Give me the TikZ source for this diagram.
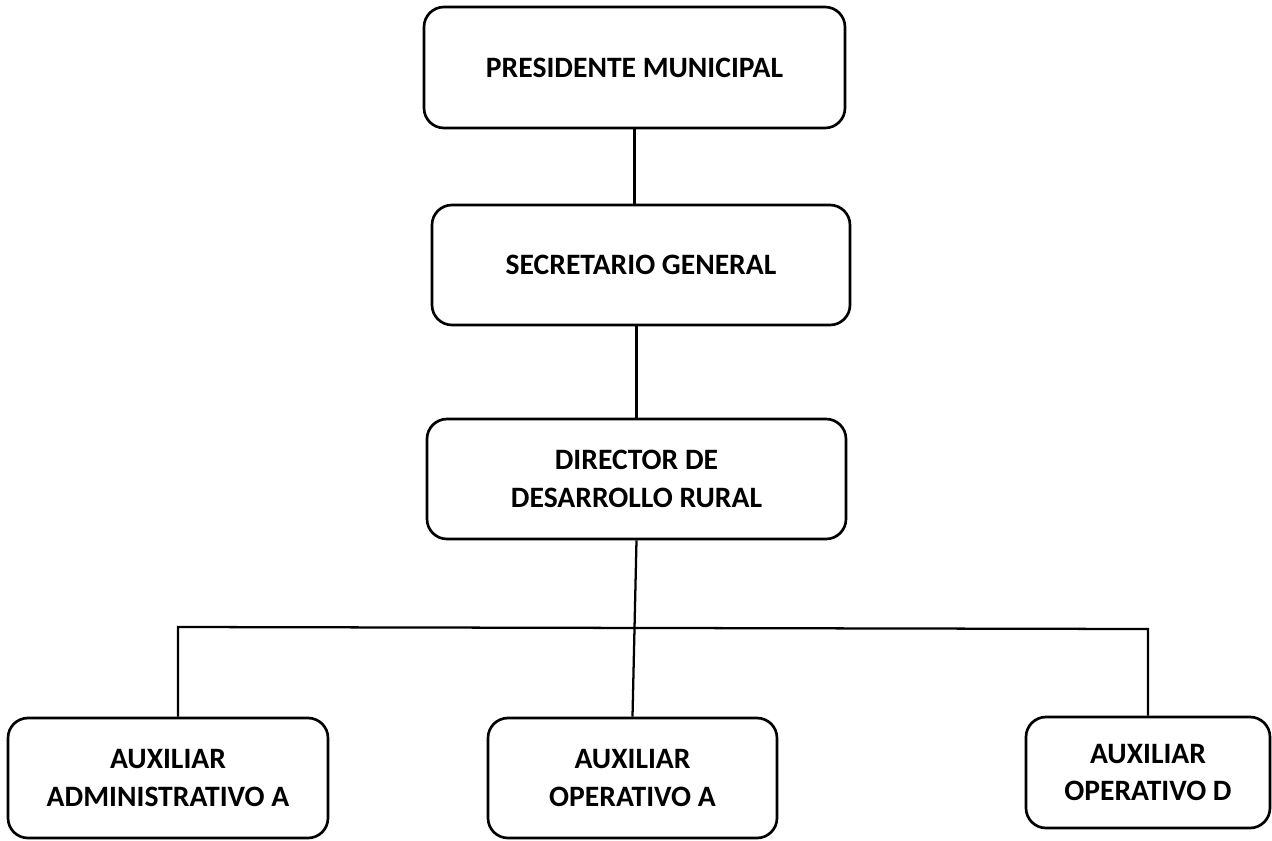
\documentclass[tikz,border=0pt]{standalone}
\usepackage{fontspec}
\setmainfont{Carlito}
\begin{document}
\begin{tikzpicture}[x=0.75pt,y=-0.75pt,
  box/.style={draw=black,line width=2pt,rounded corners=15pt,inner sep=0pt,align=center,
    font=\fontsize{22.2}{28}\selectfont\bfseries},
  conn/.style={draw=black,line width=1.7pt}]
\useasboundingbox (0,0) rectangle (1272,840);
\node[box,minimum width={0.75*421pt},minimum height={0.75*121pt}] (p) at (634.5,67.5) {PRESIDENTE MUNICIPAL};
\node[box,minimum width={0.75*418pt},minimum height={0.75*120pt}] (s) at (641,265) {SECRETARIO GENERAL};
\node[box,minimum width={0.75*419pt},minimum height={0.75*120pt}] (d) at (636.5,479) {DIRECTOR DE\\DESARROLLO RURAL};
\node[box,minimum width={0.75*320pt},minimum height={0.75*120pt}] (a) at (168,778) {AUXILIAR\\ADMINISTRATIVO A};
\node[box,minimum width={0.75*289pt},minimum height={0.75*120pt}] (b) at (632.5,778) {AUXILIAR\\OPERATIVO A};
\node[box,minimum width={0.75*244pt},minimum height={0.75*111pt}] (o) at (1148,772.5) {AUXILIAR\\OPERATIVO D};
\coordinate (la) at (178,627);
\coordinate (ra) at (1148,629);
\draw[conn] (p.south) -- (p.south |- s.north);
\draw[conn] (d.north |- s.south) -- (d.north);
\draw[conn] (d.south) -- (b.north);
\draw[conn] (a.north -| la) -- (la) -- (ra) -- (o.north -| ra);
\end{tikzpicture}
\end{document}
